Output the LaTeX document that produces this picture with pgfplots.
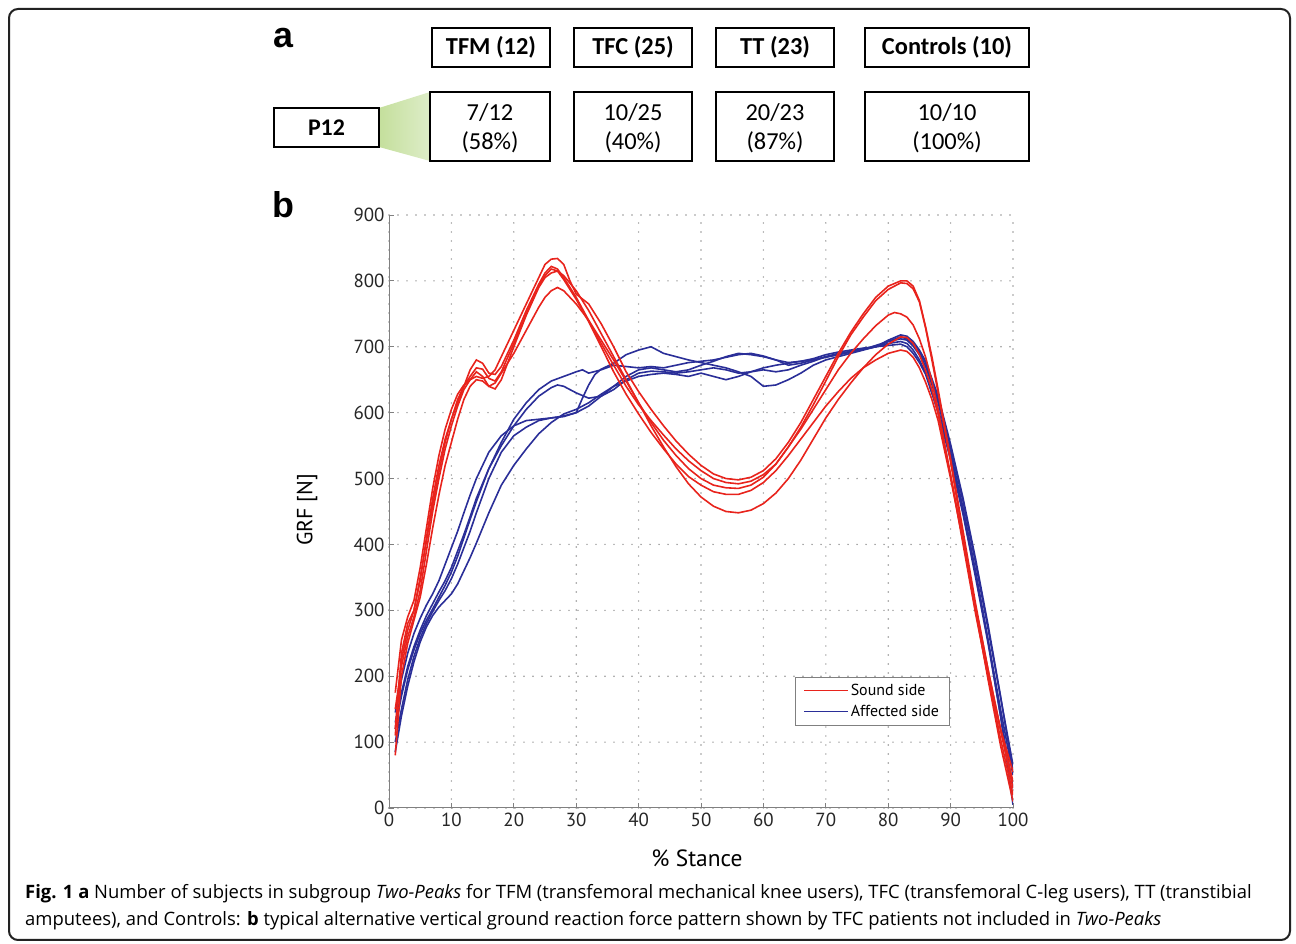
\documentclass[border=0pt]{standalone}
\usepackage{fontspec}
\setmainfont{Open Sans}
\newfontfamily\boxfont{Carlito}
\newfontfamily\lblfont{Liberation Sans}
\newfontfamily\axfont{PT Sans}
\usepackage{pgfplots}
\pgfplotsset{compat=1.18}
\definecolor{sound}{RGB}{232,35,28}
\definecolor{affected}{RGB}{42,46,152}
\definecolor{gridgray}{RGB}{150,150,150}
\definecolor{frame}{RGB}{34,34,34}

\begin{document}
\begin{tikzpicture}[x=1bp,y=1bp]
\useasboundingbox (0,0) rectangle (1296,944);
\draw[frame, line width=2bp, rounded corners=9bp] (9,4) rectangle (1290,935);

% panel a
\node[font=\lblfont\bfseries\fontsize{36}{36}\selectfont] at (283,906) {a};
\node[font=\lblfont\bfseries\fontsize{36}{36}\selectfont] at (283,739) {b};
\tikzset{bx/.style={draw=black, line width=2.4bp}}
\shade[left color={rgb,255:red,196;green,223;blue,156}, right color={rgb,255:red,222;green,237;blue,200}]
  (379,836) -- (430,852) -- (430,783) -- (379,797) -- cycle;
\draw[bx] (274,836) rectangle (379,797);
\node[font=\boxfont\bfseries\fontsize{24}{24}\selectfont] at (326.5,816.5) {P12};
\foreach \xa/\xb/\t in {432/550/TFM (12), 574/692/TFC (25), 716/834/TT (23), 865/1029/Controls (10)}{
  \draw[bx] (\xa,916) rectangle (\xb,877);
  \node[font=\boxfont\bfseries\fontsize{24.5}{24.5}\selectfont] at ({(\xa+\xb)/2},896.5) {\t};
}
\foreach \xa/\xb/\ta/\tb in {430/550/7\slash 12/(58\%), 574/692/10\slash 25/(40\%), 716/834/20\slash 23/(87\%), 865/1029/10\slash 10/(100\%)}{
  \draw[bx] (\xa,852) rectangle (\xb,783);
  \node[font=\boxfont\fontsize{24.5}{24.5}\selectfont] at ({(\xa+\xb)/2},831) {\ta};
  \node[font=\boxfont\fontsize{24.5}{24.5}\selectfont] at ({(\xa+\xb)/2},802) {\tb};
}

% panel b
\begin{axis}[
  at={(389bp,136bp)}, anchor=south west,
  scale only axis, width=624bp, height=593bp,
  xmin=0, xmax=100, ymin=0, ymax=900,
  axis lines=left, axis line style={-, draw=gray, line width=1bp},
  xtick={0,10,...,100}, ytick={0,100,...,900},
  tick align=inside, major tick length=5bp,
  tick style={gray, line width=0.8bp},
  xmajorgrids, ymajorgrids,
  major grid style={gridgray, line width=1.6bp, line cap=round, dash pattern=on 0bp off 9bp},
  /pgf/number format/assume math mode=true,
  tick label style={font=\axfont\fontsize{19}{19}\selectfont, text=black!85},
  yticklabel style={xshift=-1bp},
  xticklabel style={yshift=-2bp},
  legend style={at={(0.651,0.221)}, anchor=north west, draw=gray, line width=0.9bp,
    font=\axfont\fontsize{16}{17}\selectfont, inner xsep=8bp, inner ysep=5bp, row sep=4bp},
  legend cell align=left,
  legend image code/.code={\draw[#1] (0bp,0bp) -- (44bp,0bp);},
]
% affected side
\addplot[affected, line width=1.6bp, forget plot] coordinates {
(1,130)(2,175)(3,215)(4,245)(5,270)(6,292)(7,310)(8,328)(9,345)(10,365)(11,390)(12,415)(13,442)(14,470)(16,515)(18,550)(20,580)(22,605)(24,625)(26,638)(27,642)(28,640)(30,630)(32,622)(34,625)(36,635)(38,650)(40,660)(42,663)(44,662)(46,660)(48,662)(50,665)(52,668)(54,665)(56,660)(58,662)(60,665)(62,662)(64,665)(66,672)(68,678)(70,685)(72,690)(74,693)(76,697)(78,700)(80,705)(82,708)(83,705)(84,695)(85,680)(86,660)(88,605)(90,535)(92,450)(94,355)(96,255)(98,150)(100,50)};
\addplot[affected, line width=1.6bp, forget plot] coordinates {
(1,100)(2,150)(3,195)(4,230)(5,258)(6,280)(7,298)(8,315)(9,330)(10,348)(11,370)(12,395)(13,420)(14,448)(16,500)(18,540)(20,565)(22,578)(24,588)(26,592)(28,594)(30,600)(31,622)(32,642)(33,658)(34,666)(36,675)(38,688)(40,695)(42,700)(44,690)(46,685)(48,680)(50,676)(52,672)(54,668)(56,662)(58,655)(60,640)(62,642)(64,650)(66,660)(68,672)(70,680)(72,685)(74,690)(76,695)(78,700)(80,708)(82,715)(83,712)(84,704)(85,692)(86,675)(88,620)(90,548)(92,465)(94,372)(96,272)(98,168)(100,65)};
\addplot[affected, line width=1.6bp, forget plot] coordinates {
(1,145)(2,195)(3,235)(4,265)(5,288)(6,308)(7,325)(8,345)(9,370)(10,395)(11,420)(12,448)(13,475)(14,500)(16,540)(18,565)(20,580)(22,588)(24,590)(26,592)(28,595)(30,600)(32,610)(34,625)(36,640)(38,655)(40,665)(42,668)(44,665)(46,662)(48,665)(50,672)(52,678)(54,685)(56,690)(58,688)(60,685)(62,680)(64,676)(66,678)(68,682)(70,688)(72,692)(74,695)(76,698)(78,700)(80,710)(82,718)(83,716)(84,708)(85,695)(86,678)(88,625)(90,552)(92,470)(94,378)(96,278)(98,170)(100,55)};
\addplot[affected, line width=1.6bp, forget plot] coordinates {
(1,85)(2,140)(3,185)(4,222)(5,252)(6,275)(7,292)(8,305)(9,315)(10,325)(11,340)(12,360)(13,380)(14,402)(15,425)(16,448)(18,490)(20,520)(22,545)(24,568)(26,585)(28,598)(30,605)(32,615)(34,628)(36,640)(38,648)(40,655)(42,658)(44,660)(46,658)(48,655)(50,660)(52,655)(54,650)(56,655)(58,662)(60,668)(62,672)(64,675)(66,678)(68,680)(70,684)(72,688)(74,692)(76,696)(78,700)(80,702)(82,704)(83,700)(84,690)(85,676)(86,658)(88,600)(90,528)(92,445)(94,350)(96,250)(98,140)(100,30)};
\addplot[affected, line width=1.6bp, forget plot] coordinates {
(1,120)(2,170)(3,210)(4,240)(5,265)(6,285)(7,302)(8,320)(9,338)(10,358)(11,382)(12,410)(13,438)(14,465)(16,515)(18,555)(20,590)(22,615)(24,635)(26,648)(28,655)(30,662)(31,665)(32,660)(34,665)(36,672)(38,670)(40,668)(42,670)(44,668)(46,672)(48,676)(50,678)(52,680)(54,684)(56,688)(58,690)(60,686)(62,680)(64,672)(66,675)(68,680)(70,685)(72,688)(74,692)(76,696)(78,702)(80,708)(82,712)(83,710)(84,701)(85,688)(86,670)(88,615)(90,540)(92,455)(94,360)(96,255)(98,140)(100,5)};
% sound side
\addplot[sound, line width=1.6bp, forget plot] coordinates {
(1,175)(2,255)(3,290)(4,315)(5,365)(6,425)(7,485)(8,535)(9,575)(10,605)(11,628)(12,642)(13,650)(14,655)(15,652)(16,655)(17,665)(18,685)(20,725)(22,765)(24,805)(25,825)(26,833)(27,834)(28,825)(29,800)(30,780)(32,765)(34,735)(36,700)(38,662)(40,632)(42,605)(44,580)(46,557)(48,537)(50,520)(52,507)(54,500)(56,498)(58,502)(60,512)(62,530)(64,555)(66,585)(68,620)(70,655)(72,690)(74,722)(76,750)(78,775)(80,792)(82,800)(83,800)(84,792)(85,770)(86,730)(87,685)(88,635)(90,530)(92,420)(94,310)(96,210)(98,120)(100,40)};
\addplot[sound, line width=1.6bp, forget plot] coordinates {
(1,120)(2,235)(3,280)(4,300)(5,345)(6,410)(7,470)(8,520)(9,560)(10,590)(11,615)(12,640)(13,665)(14,680)(15,675)(16,660)(17,658)(18,670)(20,710)(22,755)(24,795)(25,812)(26,822)(27,818)(28,805)(30,775)(32,740)(34,705)(36,672)(38,640)(40,612)(42,588)(44,566)(46,545)(48,527)(50,512)(52,500)(54,494)(56,492)(58,496)(60,506)(62,522)(64,548)(66,578)(68,612)(70,648)(72,685)(74,718)(76,745)(78,770)(80,787)(82,797)(83,796)(84,788)(85,768)(86,728)(87,680)(88,630)(90,525)(92,412)(94,300)(96,200)(98,105)(100,20)};
\addplot[sound, line width=1.6bp, forget plot] coordinates {
(1,150)(2,215)(3,260)(4,290)(5,330)(6,390)(7,450)(8,500)(9,545)(10,580)(11,610)(12,635)(13,650)(14,662)(15,655)(16,640)(17,636)(18,650)(20,700)(22,748)(24,790)(25,805)(26,812)(27,815)(28,808)(30,785)(32,755)(34,720)(36,685)(38,650)(40,615)(42,585)(44,558)(46,535)(48,515)(50,500)(52,490)(54,486)(56,485)(58,490)(60,502)(62,522)(64,548)(66,575)(68,605)(70,635)(72,665)(74,690)(76,712)(78,732)(80,748)(81,752)(82,750)(83,745)(84,733)(85,712)(86,684)(87,648)(88,605)(90,505)(92,400)(94,295)(96,200)(98,120)(100,55)};
\addplot[sound, line width=1.6bp, forget plot] coordinates {
(1,80)(2,200)(3,250)(4,285)(5,320)(6,370)(7,425)(8,475)(9,520)(10,555)(11,590)(12,620)(13,640)(14,650)(15,648)(16,640)(17,645)(18,660)(20,690)(22,725)(24,760)(25,775)(26,785)(27,790)(28,785)(30,765)(32,740)(34,710)(36,680)(38,648)(40,615)(42,580)(44,548)(46,518)(48,492)(50,472)(52,458)(54,450)(56,448)(58,452)(60,462)(62,478)(64,500)(66,528)(68,560)(70,592)(72,620)(74,645)(76,668)(78,688)(80,704)(82,715)(83,714)(84,705)(85,688)(86,664)(87,635)(88,598)(90,505)(92,405)(94,300)(96,195)(98,95)(100,10)};
\addplot[sound, line width=1.6bp, forget plot] coordinates {
(1,110)(2,225)(3,270)(4,300)(5,350)(6,405)(7,460)(8,510)(9,555)(10,590)(11,620)(12,640)(13,655)(14,668)(15,666)(16,652)(17,648)(18,662)(20,705)(22,750)(24,792)(25,808)(26,818)(27,815)(28,802)(30,772)(32,738)(34,700)(36,662)(38,628)(40,598)(42,570)(44,545)(46,522)(48,503)(50,490)(52,480)(54,476)(56,476)(58,482)(60,494)(62,512)(64,535)(66,560)(68,585)(70,610)(72,632)(74,652)(76,668)(78,680)(80,690)(82,695)(83,693)(84,684)(85,668)(86,646)(87,620)(88,588)(90,500)(92,405)(94,305)(96,210)(98,118)(100,30)};
\addlegendimage{sound, line width=1.1bp}
\addlegendentry{Sound side}
\addlegendimage{affected, line width=1.1bp}
\addlegendentry{Affected side}
\end{axis}

\node[font=\axfont\fontsize{22}{22}\selectfont, rotate=90] at (307,434) {GRF [N]};
\node[font=\axfont\fontsize{23.5}{23.5}\selectfont] at (697,86) {\% Stance};

% caption
\node[anchor=base west, inner sep=0, font=\fontsize{18.5}{22}\selectfont] at (25,45)
 {\textbf{Fig. 1 a} Number of subjects in subgroup \textit{Two-Peaks} for TFM (transfemoral mechanical knee users), TFC (transfemoral C-leg users), TT (transtibial};
\node[anchor=base west, inner sep=0, font=\fontsize{18.5}{22}\selectfont] at (25,18)
 {amputees), and Controls: \textbf{b} typical alternative vertical ground reaction force pattern shown by TFC patients not included in \textit{Two-Peaks}};
\end{tikzpicture}
\end{document}
